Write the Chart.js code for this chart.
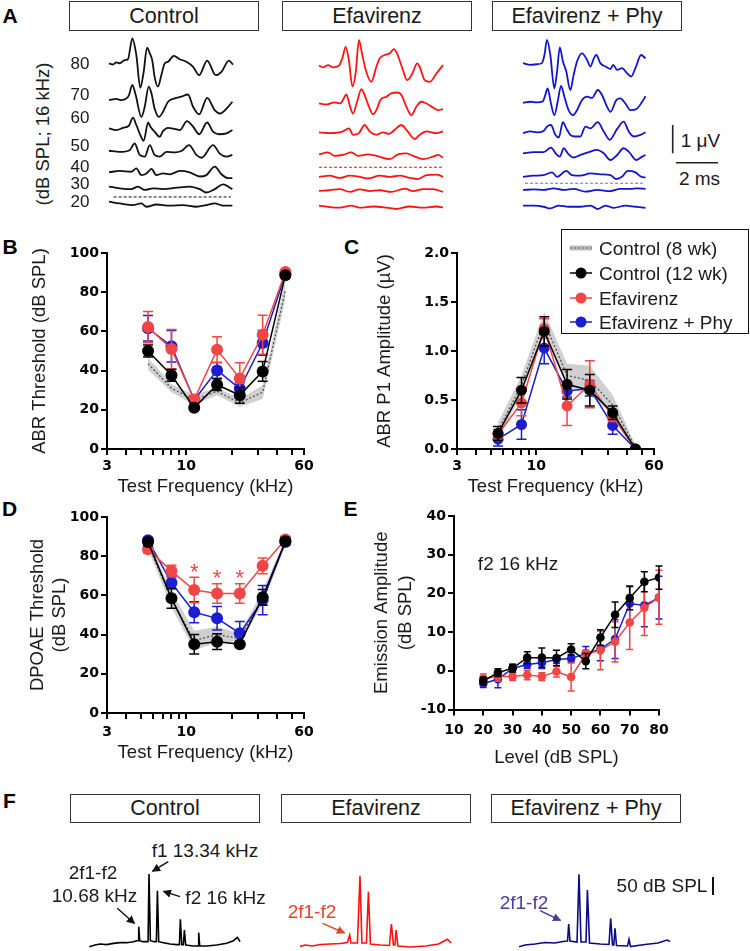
<!DOCTYPE html>
<html>
<head>
<meta charset="utf-8">
<title>Efavirenz ABR / DPOAE</title>
<script src="https://cdn.jsdelivr.net/npm/chart.js@4.4.1/dist/chart.umd.min.js"></script>
<style>
  html, body { margin: 0; padding: 0; background: #fff; }
  body { position: relative; width: 750px; height: 951px; overflow: hidden;
         font-family: "Liberation Sans", Arial, sans-serif; color: #1a1a1a; }
  canvas { position: absolute; }
  .t { position: absolute; white-space: nowrap; line-height: 1; transform: translate(-50%, -50%); }
  .tl { position: absolute; white-space: nowrap; line-height: 1; transform: translateY(-50%); }
  .r { position: absolute; white-space: nowrap; line-height: 1; transform: translate(-50%, -50%) rotate(-90deg); }
  .letter { font-weight: bold; font-size: 21px; color: #000; }
  .box { position: absolute; box-sizing: border-box; border: 1.5px solid #333;
         display: flex; align-items: center; justify-content: center; font-size: 21.5px; }
  svg { position: absolute; left: 0; top: 0; pointer-events: none; }
</style>
</head>
<body>

<div class="t letter" style="left:10px;top:14.5px">A</div>
<div class="t letter" style="left:10px;top:245.5px">B</div>
<div class="t letter" style="left:351.5px;top:245.5px">C</div>
<div class="t letter" style="left:9.5px;top:507.5px">D</div>
<div class="t letter" style="left:350.5px;top:507.5px">E</div>
<div class="t letter" style="left:9.5px;top:800px">F</div>

<div class="box" style="left:69px;top:1px;width:190px;height:30px">Control</div>
<div class="box" style="left:282px;top:1px;width:190px;height:30px">Efavirenz</div>
<div class="box" style="left:492px;top:1px;width:190px;height:30px">Efavirenz + Phy</div>
<div class="r" style="left:43px;top:133.5px;font-size:18.5px">(dB SPL; 16 kHz)</div>
<div class="t" style="left:700.5px;top:140px;font-size:19px">1 &mu;V</div>
<div class="t" style="left:699.5px;top:178px;font-size:19px">2 ms</div>

<canvas id="waveCtrl" width="132" height="194" style="left:105.3px;top:26px"></canvas>
<canvas id="waveEfv" width="132" height="194" style="left:315.3px;top:26px"></canvas>
<canvas id="wavePhy" width="132" height="194" style="left:518.7px;top:26px"></canvas>

<canvas id="chartB" width="300" height="258" style="left:20px;top:240px"></canvas>
<canvas id="chartC" width="300" height="258" style="left:370px;top:240px"></canvas>
<canvas id="chartD" width="300" height="260" style="left:20px;top:504px"></canvas>
<canvas id="chartE" width="308" height="266" style="left:367px;top:503px"></canvas>

<div style="position:absolute;left:561px;top:229px;width:188px;height:105px;border:1.5px solid #111;box-sizing:border-box"></div>
<div class="t" style="left:518px;top:563px;font-size:19px">f2 16 kHz</div>

<div class="box" style="left:70px;top:794px;width:190px;height:29px">Control</div>
<div class="box" style="left:281px;top:794px;width:190px;height:29px">Efavirenz</div>
<div class="box" style="left:491px;top:794px;width:190px;height:29px">Efavirenz + Phy</div>

<canvas id="specCtrl" width="152" height="85" style="left:89px;top:866px"></canvas>
<canvas id="specEfv" width="152" height="85" style="left:299.6px;top:866px"></canvas>
<canvas id="specPhy" width="152" height="85" style="left:519px;top:866px"></canvas>

<div class="t" style="left:205px;top:850px;font-size:19px">f1 13.34 kHz</div>
<div class="t" style="left:93px;top:872px;font-size:19px">2f1-f2</div>
<div class="t" style="left:94.5px;top:895px;font-size:19px">10.68 kHz</div>
<div class="t" style="left:225.5px;top:897px;font-size:19px">f2 16 kHz</div>
<div class="t" style="left:312px;top:911px;font-size:19px;color:#e8452c">2f1-f2</div>
<div class="t" style="left:524px;top:902px;font-size:19px;color:#4b3c9c">2f1-f2</div>
<div class="t" style="left:662px;top:885px;font-size:19px">50 dB SPL</div>

<svg width="750" height="951">
  <defs>
    <marker id="hk" viewBox="0 0 10 10" refX="9" refY="5" markerWidth="6" markerHeight="6" orient="auto"><path d="M0,0 L10,5 L0,10 z" fill="#111"/></marker>
    <marker id="hr" viewBox="0 0 10 10" refX="9" refY="5" markerWidth="6" markerHeight="6" orient="auto"><path d="M0,0 L10,5 L0,10 z" fill="#e8452c"/></marker>
    <marker id="hp" viewBox="0 0 10 10" refX="9" refY="5" markerWidth="6" markerHeight="6" orient="auto"><path d="M0,0 L10,5 L0,10 z" fill="#4b3c9c"/></marker>
  </defs>
  <line x1="672.7" y1="125" x2="672.7" y2="153.3" stroke="#222" stroke-width="1.6"/>
  <line x1="676" y1="162.7" x2="718" y2="162.7" stroke="#222" stroke-width="1.6"/>
  <line x1="713" y1="877" x2="713" y2="895" stroke="#111" stroke-width="2"/>
  <line x1="168.3" y1="861.7" x2="152.5" y2="871.2" stroke="#111" stroke-width="1.4" marker-end="url(#hk)"/>
  <line x1="117.3" y1="908.3" x2="134.5" y2="923.5" stroke="#111" stroke-width="1.4" marker-end="url(#hk)"/>
  <line x1="180" y1="896.7" x2="163.5" y2="891.3" stroke="#111" stroke-width="1.4" marker-end="url(#hk)"/>
  <line x1="322.7" y1="923.3" x2="344.5" y2="933" stroke="#e8452c" stroke-width="1.4" marker-end="url(#hr)"/>
  <line x1="540" y1="910.7" x2="560.5" y2="920.5" stroke="#4b3c9c" stroke-width="1.4" marker-end="url(#hp)"/>
  <g id="legendMarks"></g>
</svg>

<script>
// ---------- data ----------
const groupNames = ['Control', 'Efavirenz', 'Efavirenz + Phy'];
const abrLevels = [80, 70, 60, 50, 40, 30, 20];

// A: ABR waveforms at 16 kHz, [time (ms), amplitude (uV)], 80 -> 20 dB SPL
const ctrlWaves = [
  [[0,0],[0.19,-0.04],[0.35,0.04],[0.51,0],[0.75,0.12],[0.9,0.15],[1.11,0.89],[1.3,0.3],[1.49,-0.87],[1.65,-0.3],[1.81,0.56],[1.94,0.36],[2.06,0.1],[2.17,-0.48],[2.33,-0.83],[2.49,-0.42],[2.65,0],[2.81,0.06],[3.08,0.27],[3.37,0.15],[3.68,0.06],[4.0,-0.12],[4.29,-0.42],[4.67,0.1],[5.08,-0.42],[5.35,-0.3],[5.71,0.1],[5.9,-0.04]],
  [[0,0],[0.35,0.04],[0.59,0],[0.83,0.06],[0.95,0.18],[1.11,0.54],[1.27,0.18],[1.54,-0.6],[1.7,-0.24],[1.89,0.48],[2.02,0.24],[2.17,-0.3],[2.38,-0.6],[2.57,-0.42],[2.81,-0.06],[3.13,0.06],[3.44,0.12],[3.76,0.2],[4.0,-0.24],[4.29,-0.51],[4.67,0.08],[5.03,-0.36],[5.27,-0.48],[5.67,-0.24],[5.87,-0.06]],
  [[0,0],[0.35,-0.06],[0.67,0.02],[0.95,0.1],[1.14,0.38],[1.3,0.12],[1.49,-0.24],[1.65,-0.45],[1.86,0.21],[1.97,0.06],[2.17,-0.12],[2.41,-0.3],[2.57,-0.1],[2.81,0.02],[3.13,-0.02],[3.37,-0.06],[3.71,0.26],[4.0,0.06],[4.29,-0.21],[4.67,0.21],[4.95,-0.12],[5.24,-0.21],[5.59,-0.18],[5.87,-0.06]],
  [[0,0],[0.51,-0.04],[0.98,0.02],[1.22,0.26],[1.46,-0.15],[1.7,-0.21],[1.94,0.2],[2.17,-0.15],[2.41,-0.21],[2.73,-0.04],[3.13,-0.06],[3.44,-0.01],[3.81,0.2],[4.16,-0.15],[4.4,-0.25],[4.95,0.2],[5.27,-0.1],[5.59,-0.21],[5.87,-0.15]],
  [[0,0],[0.51,0.05],[1.06,0.02],[1.3,0.14],[1.54,-0.1],[1.78,-0.04],[2.02,0.12],[2.25,-0.1],[2.57,-0.04],[2.89,-0.07],[3.37,0.05],[3.84,0],[4.32,-0.15],[4.63,-0.1],[5.03,0.2],[5.35,-0.07],[5.67,-0.21],[5.87,-0.21]],
  [[0,0.04],[0.51,-0.02],[1.06,-0.05],[1.38,0.04],[1.7,-0.08],[2.1,-0.02],[2.57,-0.05],[3.21,0],[3.84,0.04],[4.32,-0.05],[4.63,-0.17],[5.03,-0.05],[5.43,0.12],[5.87,-0.05]],
  [[0,0],[0.51,-0.06],[1.14,-0.12],[1.54,-0.06],[1.78,-0.18],[2.25,-0.1],[2.89,-0.14],[3.52,-0.12],[4.16,-0.18],[4.63,-0.12],[5.03,-0.06],[5.43,-0.14],[5.87,-0.14]]
];
const efvWaves = [
  [[0,0.04],[0.19,-0.02],[0.43,0.06],[0.67,-0.02],[0.95,0.04],[1.11,0.3],[1.27,0.71],[1.43,0.18],[1.59,-0.71],[1.75,-0.18],[1.9,0.95],[2.06,0.42],[2.25,-0.18],[2.49,-0.54],[2.73,0],[2.89,0.3],[3.13,0.42],[3.37,0.48],[3.56,0.63],[3.71,0.48],[3.97,-0.06],[4.19,-0.48],[4.44,-0.24],[4.67,0.12],[4.79,0],[5.03,-0.48],[5.27,-0.54],[5.59,-0.24],[5.9,0.06]],
  [[0,0],[0.35,-0.04],[0.75,0.04],[1.02,0],[1.14,0.12],[1.3,0.32],[1.46,-0.06],[1.62,-0.36],[1.81,0.06],[2.02,0.51],[2.17,0.3],[2.38,-0.12],[2.57,-0.39],[2.73,-0.24],[2.92,0.12],[3.21,0.24],[3.44,0.36],[3.76,0.39],[3.92,0.3],[4.16,-0.12],[4.4,-0.42],[4.63,-0.12],[4.87,0.06],[5.11,0],[5.43,-0.15],[5.67,-0.24],[5.9,-0.2]],
  [[0,0.01],[0.51,-0.02],[0.98,0.01],[1.14,0.04],[1.43,0.15],[1.62,-0.08],[1.9,-0.02],[2.17,0.27],[2.41,0.04],[2.73,-0.08],[3.05,0.01],[3.33,-0.05],[3.6,0.1],[3.92,0.27],[4.16,0.1],[4.56,-0.23],[4.79,-0.08],[5.11,0.04],[5.59,-0.02],[5.9,0.04]],
  [[0,0],[0.43,0.07],[0.75,-0.05],[1.14,-0.02],[1.54,0.07],[1.86,-0.05],[2.33,0],[2.73,-0.05],[3.37,-0.17],[3.76,0],[4.16,0.04],[4.48,-0.05],[4.95,-0.17],[5.43,-0.08],[5.67,-0.02],[5.9,-0.12]],
  [[0,0],[0.51,0.04],[0.98,-0.04],[1.46,0.04],[1.94,0],[2.33,-0.06],[2.89,0.04],[3.37,0],[3.84,0.04],[4.32,-0.04],[4.71,-0.08],[5.11,0.06],[5.59,0.08],[5.9,0]],
  [[0,0],[0.51,0.02],[0.98,0.06],[1.46,-0.04],[1.94,0.05],[2.41,-0.01],[2.89,0.02],[3.44,-0.04],[4.08,0.08],[4.48,-0.01],[4.95,0.06],[5.43,0.06],[5.9,-0.04]],
  [[0,0.01],[0.51,-0.04],[0.98,-0.06],[1.54,0.01],[1.94,-0.06],[2.57,-0.02],[3.21,-0.06],[3.68,-0.11],[4.32,-0.02],[4.95,-0.06],[5.59,-0.02],[5.9,-0.06]]
];
const phyWaves = [
  [[0,0.04],[0.35,-0.02],[0.67,0],[0.9,0.04],[1.02,0.33],[1.14,0.87],[1.3,0.33],[1.49,-0.86],[1.62,-0.26],[1.75,0.6],[1.9,0.1],[2.06,-0.26],[2.25,-0.92],[2.41,-0.38],[2.57,0.1],[2.81,0.39],[3.05,0.15],[3.21,-0.08],[3.37,0.21],[3.49,0.33],[3.68,0.04],[3.92,-0.08],[4.16,-0.17],[4.29,-0.02],[4.48,-0.2],[4.71,-0.14],[4.95,-0.32],[5.14,-0.44],[5.35,-0.14],[5.62,0.33],[5.83,0.21]],
  [[0,-0.04],[0.35,0],[0.67,-0.02],[0.95,0.02],[1.06,0.24],[1.17,0.48],[1.33,-0.06],[1.49,-0.48],[1.65,0],[1.81,0.57],[1.97,0.18],[2.17,-0.3],[2.38,-0.48],[2.57,-0.3],[2.81,0.06],[3.05,0.18],[3.29,0.14],[3.56,0.42],[3.76,0.24],[4.0,-0.18],[4.16,-0.36],[4.44,0.06],[4.63,0.12],[4.87,-0.06],[5.11,-0.3],[5.4,-0.26],[5.67,0],[5.83,0.2]],
  [[0,-0.02],[0.35,0.04],[0.67,0.01],[0.98,0.06],[1.14,0.21],[1.33,0.27],[1.54,-0.08],[1.7,-0.18],[1.9,0.37],[2.06,0.15],[2.25,-0.08],[2.49,-0.14],[2.73,-0.14],[2.97,0.21],[3.21,0.15],[3.56,0.37],[3.84,0.04],[4.13,-0.26],[4.48,0.13],[4.79,0.39],[5.03,0.04],[5.27,-0.14],[5.59,-0.08],[5.83,0.01]],
  [[0,0],[0.51,0.04],[0.98,0.04],[1.33,0.2],[1.59,-0.04],[1.75,-0.12],[1.94,0.18],[2.13,0],[2.41,-0.15],[2.73,-0.06],[3.13,0.04],[3.52,0.12],[3.84,0],[4.16,-0.24],[4.48,-0.06],[4.79,0.18],[5.03,0.06],[5.4,-0.24],[5.67,-0.12],[5.83,-0.06]],
  [[0,-0.04],[0.51,0],[0.98,0.02],[1.38,0.12],[1.62,-0.04],[2.06,0.17],[2.33,0.02],[2.73,0],[3.21,0.08],[3.68,0.05],[4.16,0.02],[4.44,-0.12],[4.71,-0.04],[4.98,0.17],[5.35,0.12],[5.62,-0.04],[5.83,-0.07]],
  [[0,0],[0.51,0.02],[0.98,0],[1.46,0.06],[1.94,0],[2.41,0.04],[2.97,-0.06],[3.52,0],[4.16,-0.04],[4.63,0.04],[5.11,0.04],[5.43,0.06],[5.83,0.04]],
  [[0,0.04],[0.51,0.04],[0.98,0],[1.3,-0.06],[1.7,0.04],[2.17,0],[2.73,0],[3.21,0.04],[3.56,-0.08],[3.92,0.04],[4.32,-0.04],[4.87,0.04],[5.35,0],[5.83,-0.04]]
];
// stacking of the traces (uV above the panel floor) and threshold line
const ctrlStack = [5.45, 4.14, 3.13, 2.33, 1.56, 1.01, 0.51];
const efvStack = [5.33, 4.02, 2.98, 2.20, 1.40, 0.90, 0.36];
const phyStack = [5.42, 4.08, 2.98, 2.24, 1.44, 0.93, 0.33];
const threshLines = [[0.22, 5.8, 0.68], [0, 5.9, 1.74], [0.1, 5.7, 1.17]];

// B-D: test frequencies (kHz)
const freqs = [5.6, 8, 11.3, 16, 22.6, 32, 45.2];
const freqTicks = [3, 4, 5, 6, 7, 8, 9, 10, 20, 30, 40, 50, 60];
const freqLabels = [3, 10, 60];

// B: ABR threshold (dB SPL), mean and SEM
const abrCtrl8 = [43.5, 31, 25, 29.4, 23.5, 29, 81];
const abrCtrl8Sem = [3, 2, 2.5, 2, 2, 3.5, 5];
const abrCtrl = [50, 37.6, 21, 32.8, 27.4, 39.6, 88.6];
const abrCtrlSem = [3, 3, 1, 3, 4, 5, 1];
const abrEfv = [62.2, 51, 25.2, 50.7, 36, 58.3, 90.3];
const abrEfvSem = [8, 10, 2, 6.6, 8, 10, 1];
const abrPhy = [61.6, 52.4, 25, 40.1, 30.8, 54.1, 89.3];
const abrPhySem = [6.5, 8, 2, 4, 3, 6.3, 1];

// C: ABR P1 amplitude (uV)
const p1Ctrl8 = [0.19, 0.65, 1.3, 0.75, 0.7, 0.45, 0.02];
const p1Ctrl8Sem = [0.08, 0.1, 0.1, 0.12, 0.15, 0.1, 0.02];
const p1Ctrl = [0.16, 0.6, 1.2, 0.66, 0.6, 0.37, 0];
const p1CtrlSem = [0.07, 0.13, 0.15, 0.15, 0.16, 0.07, 0];
const p1Efv = [0.15, 0.47, 1.23, 0.44, 0.66, 0.33, 0];
const p1EfvSem = [0.05, 0.13, 0.1, 0.2, 0.24, 0.05, 0];
const p1Phy = [0.1, 0.25, 1.03, 0.59, 0.62, 0.24, 0];
const p1PhySem = [0.07, 0.15, 0.16, 0.06, 0.08, 0.09, 0];

// D: DPOAE threshold (dB SPL)
const dpCtrl8 = [86, 58, 37, 40, 38, 59, 87];
const dpCtrl8Sem = [2.5, 4, 5, 4, 2.5, 3.5, 1.5];
const dpCtrl = [87.3, 58.5, 35.1, 36.4, 35.1, 59, 87.6];
const dpCtrlSem = [2, 5, 5, 4, 1, 4, 2];
const dpEfv = [83.6, 72.4, 62.7, 61, 61, 75.1, 88.5];
const dpEfvSem = [2, 3, 6.5, 5, 5, 4, 1];
const dpPhy = [88.1, 66.4, 51.4, 48.3, 40.7, 57.6, 87.3];
const dpPhySem = [1, 3, 5.4, 6, 6, 7.5, 1];
const starFreqs = [11.3, 16, 22.6];
const starLevels = [74.6, 71.7, 71.7];

// E: DPOAE growth at f2 = 16 kHz
const levels = [20, 25, 30, 35, 40, 45, 50, 55, 60, 65, 70, 75, 80];
const ioCtrl = [-2.6, -0.5, 0.7, 3.4, 3.4, 3.3, 5.5, 2.5, 8.6, 14.5, 18.8, 23, 24.1];
const ioCtrlSem = [1, 1, 1, 1.5, 2.5, 2, 1.5, 2, 2, 3.3, 3, 2.6, 3];
const ioEfv = [-2, -1.5, -1.5, -1.1, -1.5, -0.2, -1.6, 4.3, 5.3, 7.5, 12.5, 16.3, 19];
const ioEfvSem = [1.2, 1.2, 1, 1.2, 1, 1.4, 3.6, 1, 5, 5.2, 7, 7.2, 7];
const ioPhy = [-3.3, -2.2, 0.6, 1.6, 2.1, 2.9, 3.2, 4.5, 5.6, 8.2, 17.4, 16.9, 18.9];
const ioPhySem = [1, 2.2, 1, 1, 1.5, 1, 1, 1.8, 3, 5, 4.5, 5.5, 5.5];

// F: DPOAE spectra, frequency (kHz) and level (dB)
const specCtrlKHz = [3.68, 4.16, 4.63, 5.35, 6.18, 7.14, 8.24, 9.52, 10.23, 10.53, 10.68, 10.91, 11.64, 13.07, 13.34, 13.74, 14.88, 15.64, 16, 16.45, 18.19, 21.01, 24.27, 25.71, 26.27, 27.04, 28.03, 28.64, 29.48, 34.8, 38.48, 39.03, 39.88, 46.4, 57.6, 71.5, 82.5, 90.0, 95.3];
const specCtrlDb = [-1.9, 2.8, 5.6, 3.8, 7.5, 9.4, 9.4, 12.2, 15, 15, 54.5, 15, 12.2, 12.2, 203, 15, 12.2, 12.2, 156, 12.2, 9.4, 5.6, 3.8, 3.8, 75.2, 3.8, 3.8, 45.1, 2.8, 0, 0, 37.6, 0, 0, 2.8, 7.5, 15, 24.4, 12.2];
const specEfvKHz = [3.63, 4.10, 4.77, 5.67, 7.04, 8.74, 10.16, 10.68, 10.96, 12.61, 13.34, 13.90, 15.32, 16, 16.70, 20.73, 25.18, 26.29, 27.45, 28.35, 29.10, 30.26, 39.6, 54.8, 72.6, 88.1, 95.5];
const specEfvDb = [-1.4, 2.8, 0, 4.2, 5.6, 7.1, 9.9, 31, 8.5, 8.5, 197, 8.5, 8.5, 153, 5.6, 2.8, 1.4, 62, 2.8, 2.8, 45, 0, -2.8, 0, 5.6, 18.9, 8.5];
const specPhyKHz = [3.65, 4.16, 5.16, 6.40, 7.95, 9.44, 10.41, 10.68, 10.98, 12.78, 13.34, 13.93, 15.52, 16, 16.74, 21.0, 25.5, 26.45, 27.51, 28.29, 29.03, 29.99, 38.03, 39.3, 40.58, 55.5, 73.5, 89.3, 95.2];
const specPhyDb = [-2.0, 2.8, 5.6, 9.9, 8.5, 12.7, 14.1, 62, 14.1, 11.3, 202, 11.3, 11.3, 158, 8.5, 5.6, 4.2, 78, 2.8, 2.8, 50, 1.4, 0, 18.9, -1.4, 4.2, 8.5, 16.9, 12.7];

const legendLabels = ['Control (8 wk)', 'Control (12 wk)', 'Efavirenz', 'Efavirenz + Phy'];

// ---------- styling ----------
const red = '#f24646', blue = '#1c1cd0';
const legendColors = ['#bdbdbd', '#000', red, blue];
const tickFont = {family: '"DejaVu Sans", sans-serif', size: 14, weight: 'bold'};
const titleFont = {family: '"Liberation Sans", Arial, sans-serif', size: 18.5};
const axisGrid = {drawOnChartArea: false, drawTicks: true, tickLength: 6, color: '#000', lineWidth: 2};
const axisBorder = {display: true, color: '#000', width: 2};

Chart.defaults.animation = false;
Chart.defaults.responsive = false;
Chart.defaults.events = [];
Chart.defaults.color = '#000';
Chart.defaults.plugins.legend.display = false;
Chart.defaults.plugins.tooltip.enabled = false;

// error bars drawn just before each dataset so layering follows the datasets
const errorBars = {
  id: 'errorBars',
  beforeDatasetDraw(chart, args) {
    const ds = chart.data.datasets[args.index];
    if (!ds.errors) return;
    const ctx = chart.ctx;
    const xs = chart.scales[args.meta.xAxisID], ys = chart.scales[args.meta.yAxisID];
    const w = ds.capHalf || 5;
    ctx.save();
    ctx.strokeStyle = ds.borderColor;
    ctx.lineWidth = 1.5;
    ds.data.forEach((p, i) => {
      const e = ds.errors[i];
      if (!e) return;
      const x = xs.getPixelForValue(p.x);
      const y1 = ys.getPixelForValue(p.y + e), y2 = ys.getPixelForValue(p.y - e);
      ctx.beginPath();
      ctx.moveTo(x, y1); ctx.lineTo(x, y2);
      ctx.moveTo(x - w, y1); ctx.lineTo(x + w, y1);
      ctx.moveTo(x - w, y2); ctx.lineTo(x + w, y2);
      ctx.stroke();
    });
    ctx.restore();
  }
};

// significance asterisks
const textMarks = {
  id: 'textMarks',
  afterDatasetsDraw(chart) {
    const ctx = chart.ctx;
    chart.data.datasets.forEach((ds, i) => {
      if (!ds.markText) return;
      const meta = chart.getDatasetMeta(i);
      const xs = chart.scales[meta.xAxisID], ys = chart.scales[meta.yAxisID];
      ctx.save();
      ctx.fillStyle = ds.markColor;
      ctx.font = '22px "Liberation Sans", Arial';
      ctx.textAlign = 'center';
      ctx.textBaseline = 'alphabetic';
      ds.data.forEach(p => ctx.fillText(ds.markText, xs.getPixelForValue(p.x), ys.getPixelForValue(p.y) + 12.5));
      ctx.restore();
    });
  }
};

function waveChart(id, waves, stack, color, thresh, dashColor) {
  const datasets = waves.map((w, i) => ({
    data: w.map(([t, v]) => ({x: t, y: v + stack[i]})),
    borderColor: color, borderWidth: 1.8, pointRadius: 0,
    cubicInterpolationMode: 'monotone', clip: false
  }));
  datasets.push({
    data: [{x: thresh[0], y: thresh[2]}, {x: thresh[1], y: thresh[2]}],
    borderColor: dashColor, borderWidth: 1, borderDash: [3, 2], pointRadius: 0
  });
  new Chart(document.getElementById(id), {
    type: 'line',
    data: {datasets},
    options: {
      layout: {padding: 4},
      scales: {
        x: {type: 'linear', display: false, min: 0, max: 5.9},
        y: {type: 'linear', display: false, min: 0, max: 6.643}
      }
    }
  });
}

function specChart(id, khz, db, color) {
  new Chart(document.getElementById(id), {
    type: 'line',
    data: {datasets: [{
      data: khz.map((f, i) => ({x: f, y: db[i]})),
      borderColor: color, borderWidth: 1.6, pointRadius: 0, tension: 0, clip: false
    }]},
    options: {
      layout: {padding: 0},
      scales: {
        x: {type: 'logarithmic', display: false, min: 3.65, max: 97.3},
        y: {type: 'linear', display: false, min: -14.1, max: 225.6}
      }
    }
  });
}

function yAxis(min, max, step, title, titlePad, fmt, lh) {
  return {
    type: 'linear', min, max,
    afterFit: ax => { ax.width = 87; },
    ticks: {stepSize: step, padding: 2, color: '#000', font: tickFont, callback: fmt || (v => v)},
    grid: axisGrid, border: axisBorder,
    title: {display: true, text: title, color: '#1a1a1a',
            font: Object.assign({}, titleFont, {lineHeight: lh || 1.2}),
            padding: {top: titlePad, bottom: 0}}
  };
}

function freqAxis(tickPad, height) {
  return {
    type: 'logarithmic', min: 3, max: 60,
    afterBuildTicks: ax => { ax.ticks = freqTicks.map(v => ({value: v})); },
    afterFit: ax => { ax.height = height; },
    ticks: {autoSkip: false, maxRotation: 0, padding: tickPad, color: '#000', font: tickFont,
            callback: v => freqLabels.includes(v) ? String(v) : ''},
    grid: axisGrid, border: axisBorder,
    title: {display: true, text: 'Test Frequency (kHz)', color: '#1a1a1a', font: titleFont, padding: 0}
  };
}

function series(xs, vals, sem, color, r, cap) {
  return {
    data: vals.map((y, i) => ({x: xs[i], y})), errors: sem, capHalf: cap,
    borderColor: color, backgroundColor: color, borderWidth: 1.5,
    pointRadius: r, pointBorderWidth: 0
  };
}

function freqChart(id, c) {
  const pts = vals => vals.map((y, i) => ({x: freqs[i], y}));
  const datasets = [
    series(freqs, c.ctrl, c.ctrlSem, '#000', c.r, 5),
    series(freqs, c.efv, c.efvSem, red, c.r, 5),
    series(freqs, c.phy, c.phySem, blue, c.r, 5),
    {data: pts(c.ctrl8), borderColor: '#4d4d4d', borderWidth: 1.2, borderDash: [2, 2], pointRadius: 0},
    {data: pts(c.ctrl8.map((m, i) => m - c.ctrl8Sem[i])), borderColor: 'rgba(0,0,0,0)', borderWidth: 1, pointRadius: 0},
    {data: pts(c.ctrl8.map((m, i) => m + c.ctrl8Sem[i])), borderColor: 'rgba(0,0,0,0)', borderWidth: 1, pointRadius: 0,
     fill: '-1', backgroundColor: 'rgba(150,150,150,0.45)'}
  ];
  if (c.stars) {
    datasets.push({data: c.stars, markText: '*', markColor: red, showLine: false, pointRadius: 0});
  }
  new Chart(document.getElementById(id), {
    type: 'line',
    data: {datasets},
    options: {
      layout: {padding: {left: 0, top: 13, right: 16, bottom: 0}},
      scales: {x: freqAxis(c.tickPad, c.xh), y: c.y}
    },
    plugins: [errorBars, textMarks]
  });
}

// ---------- panel A ----------
waveChart('waveCtrl', ctrlWaves, ctrlStack, '#111', threshLines[0], '#111');
waveChart('waveEfv', efvWaves, efvStack, '#ff1414', threshLines[1], '#ff1414');
waveChart('wavePhy', phyWaves, phyStack, '#1414cc', threshLines[2], '#6a6ab8');

const levelTops = [62.5, 94.3, 117.3, 145, 165.7, 182.7, 201];
abrLevels.forEach((lv, i) => {
  const d = document.createElement('div');
  d.className = 't';
  d.style.cssText = `left:80px;top:${levelTops[i]}px;font-size:17px`;
  d.textContent = lv;
  document.body.appendChild(d);
});

// ---------- panels B-D ----------
freqChart('chartB', {
  ctrl8: abrCtrl8, ctrl8Sem: abrCtrl8Sem, ctrl: abrCtrl, ctrlSem: abrCtrlSem,
  efv: abrEfv, efvSem: abrEfvSem, phy: abrPhy, phySem: abrPhySem, r: 6,
  tickPad: 3, xh: 49,
  y: yAxis(0, 100, 20, 'ABR Threshold (dB SPL)', 9)
});
freqChart('chartC', {
  ctrl8: p1Ctrl8, ctrl8Sem: p1Ctrl8Sem, ctrl: p1Ctrl, ctrlSem: p1CtrlSem,
  efv: p1Efv, efvSem: p1EfvSem, phy: p1Phy, phySem: p1PhySem, r: 5.5,
  tickPad: 3, xh: 49,
  y: yAxis(0, 2, 0.5, 'ABR P1 Amplitude (\u00b5V)', 4, v => v.toFixed(1))
});
freqChart('chartD', {
  ctrl8: dpCtrl8, ctrl8Sem: dpCtrl8Sem, ctrl: dpCtrl, ctrlSem: dpCtrlSem,
  efv: dpEfv, efvSem: dpEfvSem, phy: dpPhy, phySem: dpPhySem, r: 6,
  tickPad: 5, xh: 51,
  stars: starFreqs.map((f, i) => ({x: f, y: starLevels[i]})),
  y: yAxis(0, 100, 20, ['DPOAE Threshold', '(dB SPL)'], 7)
});

// ---------- panel E ----------
new Chart(document.getElementById('chartE'), {
  type: 'line',
  data: {datasets: [
    series(levels, ioCtrl, ioCtrlSem, '#000', 4.3, 3.5),
    series(levels, ioEfv, ioEfvSem, red, 4.3, 3.5),
    series(levels, ioPhy, ioPhySem, blue, 4.3, 3.5)
  ]},
  options: {
    layout: {padding: {left: 0, top: 13, right: 16, bottom: 0}},
    scales: {
      x: {
        type: 'linear', min: 10, max: 80,
        afterFit: ax => { ax.height = 59.5; },
        ticks: {stepSize: 10, padding: 6, color: '#000', font: tickFont},
        grid: axisGrid, border: axisBorder,
        title: {display: true, text: 'Level (dB SPL)', color: '#1a1a1a', font: titleFont, padding: 0}
      },
      y: yAxis(-10, 40, 10, ['Emission Amplitude', '(dB SPL)'], 3, null, 1.3)
    }
  },
  plugins: [errorBars]
});

// ---------- panel F ----------
specChart('specCtrl', specCtrlKHz, specCtrlDb, '#000');
specChart('specEfv', specEfvKHz, specEfvDb, '#ff1010');
specChart('specPhy', specPhyKHz, specPhyDb, '#0b0b85');

// ---------- legend of panel C ----------
const legendY = [248, 273, 298, 322];
const marks = document.getElementById('legendMarks');
const NS = 'http://www.w3.org/2000/svg';
legendLabels.forEach((lab, i) => {
  const y = legendY[i];
  const line = document.createElementNS(NS, 'line');
  line.setAttribute('x1', 570); line.setAttribute('x2', 592);
  line.setAttribute('y1', y); line.setAttribute('y2', y);
  line.setAttribute('stroke', legendColors[i]);
  line.setAttribute('stroke-width', i === 0 ? 5 : 1.5);
  marks.appendChild(line);
  if (i === 0) {
    const dot = line.cloneNode();
    dot.setAttribute('stroke', '#666');
    dot.setAttribute('stroke-width', 1);
    dot.setAttribute('stroke-dasharray', '2,2');
    marks.appendChild(dot);
  } else {
    const c = document.createElementNS(NS, 'circle');
    c.setAttribute('cx', 581); c.setAttribute('cy', y); c.setAttribute('r', 5.5);
    c.setAttribute('fill', legendColors[i]);
    marks.appendChild(c);
  }
  const d = document.createElement('div');
  d.className = 'tl';
  d.style.cssText = `left:599px;top:${y}px;font-size:19px`;
  d.textContent = lab;
  document.body.appendChild(d);
});
</script>
</body>
</html>
